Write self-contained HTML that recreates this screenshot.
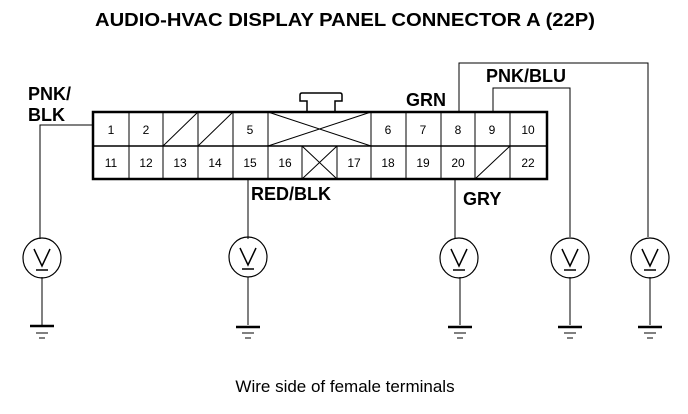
<!DOCTYPE html>
<html><head><meta charset="utf-8"><style>
html,body{margin:0;padding:0;background:#fff;}
svg{display:block}
text{font-family:"Liberation Sans",Arial,sans-serif;fill:#000}
.b{font-weight:bold;font-size:18px}
.n{font-size:12px}
</style></head><body>
<svg width="688" height="414" viewBox="0 0 688 414" xmlns="http://www.w3.org/2000/svg">
<text x="345" y="26" text-anchor="middle" class="b" style="font-size:18px" textLength="500" lengthAdjust="spacingAndGlyphs">AUDIO-HVAC DISPLAY PANEL CONNECTOR A (22P)</text>
<g stroke="#000" fill="none">
<!-- latch -->
<path d="M307 112 V101 H300 V95 Q300 93 302 93 H340 Q342 93 342 95 V101 H335 V112" stroke-width="1.5"/>
<!-- connector -->
<rect x="93" y="112" width="454" height="67" stroke-width="2.5"/>
<line x1="93" y1="146" x2="547" y2="146" stroke-width="1.5"/>
<g stroke-width="1">
<path d="M129 112V179 M163 112V179 M198 112V179 M233 112V179 M268 112V179 M371 112V179 M406 112V179 M441 112V179 M475 112V179 M510 112V179 M302 146V179 M337 146V179"/>
<path d="M163 146 L198 112 M198 146 L233 112 M268 146 L371 112 M268 112 L371 146 M302 179 L337 146 M302 146 L337 179 M475 179 L510 146"/>
</g>
<!-- wires -->
<g stroke-width="1">
<path d="M93 125 H40 V239"/>
<path d="M248 179 V239"/>
<path d="M455 179 V239"/>
<path d="M459 112 V63 H648 V237"/>
<path d="M493 112 V88 H570 V237"/>
<path d="M42 277 V325 M248 277 V325 M460 277 V325 M570 277 V325 M650 277 V325"/>
</g>
<!-- meters -->
<g stroke-width="1.2">
<ellipse cx="42" cy="258" rx="19" ry="20"/>
<ellipse cx="248" cy="257" rx="19" ry="20"/>
<ellipse cx="459" cy="258" rx="19" ry="20"/>
<ellipse cx="570" cy="258" rx="19" ry="20"/>
<ellipse cx="650" cy="258" rx="19" ry="20"/>
</g>
<g stroke-width="1.5">
<path d="M34 249 L42 266 L50 249 M36 270H48"/>
<path d="M240 248 L248 265 L256 248 M242 269H254"/>
<path d="M451 249 L459 266 L467 249 M453 270H465"/>
<path d="M562 249 L570 266 L578 249 M564 270H576"/>
<path d="M642 249 L650 266 L658 249 M644 270H656"/>
</g>
<!-- grounds -->
<g stroke-width="2.5">
<path d="M30 326H54 M236 327H260 M448 327H472 M558 327H582 M638 327H662"/>
</g>
<g stroke-width="1">
<path d="M36 333H48 M39 338H45 M242 333H254 M245 338H251 M454 333H466 M457 338H463 M564 333H576 M567 338H573 M644 333H656 M647 338H653"/>
</g>
</g>
<g class="n" text-anchor="middle">
<text x="111" y="134">1</text><text x="146" y="134">2</text><text x="250" y="134">5</text>
<text x="388" y="134">6</text><text x="423" y="134">7</text><text x="458" y="134">8</text>
<text x="492" y="134">9</text><text x="528" y="134">10</text>
<text x="111" y="167">11</text><text x="146" y="167">12</text><text x="180" y="167">13</text>
<text x="215" y="167">14</text><text x="250" y="167">15</text><text x="285" y="167">16</text>
<text x="354" y="167">17</text><text x="388" y="167">18</text><text x="423" y="167">19</text>
<text x="458" y="167">20</text><text x="528" y="167">22</text>
</g>
<text x="28" y="100" class="b">PNK/</text>
<text x="28" y="121" class="b">BLK</text>
<text x="406" y="106" class="b">GRN</text>
<text x="486" y="82" class="b">PNK/BLU</text>
<text x="251" y="200" class="b">RED/BLK</text>
<text x="463" y="205" class="b">GRY</text>
<text x="345" y="392" text-anchor="middle" style="font-size:17px">Wire side of female terminals</text>
</svg>
</body></html>
